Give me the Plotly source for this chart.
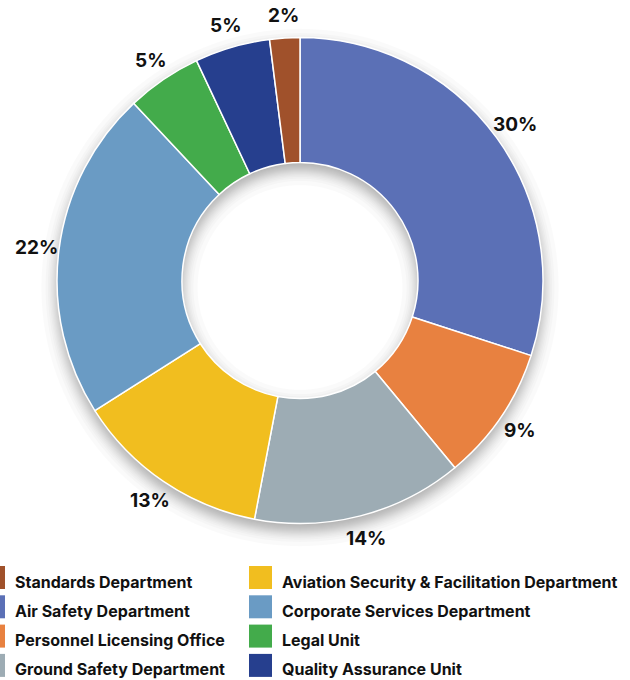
import math
from statistics import NormalDist

import plotly.graph_objects as go

# Share of staff by department (percent), in clockwise order from 12 o'clock
departments = [
    "Air Safety Department",
    "Personnel Licensing Office",
    "Ground Safety Department",
    "Aviation Security & Facilitation Department",
    "Corporate Services Department",
    "Legal Unit",
    "Quality Assurance Unit",
    "Standards Department",
]
shares = [30, 9, 14, 13, 22, 5, 5, 2]
colors = [
    "#5B70B6",
    "#E88140",
    "#9DACB4",
    "#F1BE1F",
    "#6A9BC4",
    "#43AB4B",
    "#263F8E",
    "#A0512B",
]
legend_order = [
    "Standards Department",
    "Air Safety Department",
    "Personnel Licensing Office",
    "Ground Safety Department",
    "Aviation Security & Facilitation Department",
    "Corporate Services Department",
    "Legal Unit",
    "Quality Assurance Unit",
]

# ---- geometry (pixels) ----
W, H = 630, 680
CX, CY = 300, 280.5
R_OUT, R_IN = 243, 118
LABEL_R = 266
FONT = "Inter"
TEXT_COLOR = "#111111"


def px_domain(cx, cy, r):
    return dict(x=[(cx - r) / W, (cx + r) / W], y=[1 - (cy + r) / H, 1 - (cy - r) / H])


def px_x(x):
    return x / W


def px_y(y):
    return 1 - y / H


def circle_path(cx, cy, r, n=180):
    pts = []
    for j in range(n):
        a = 2 * math.pi * j / n
        pts.append(f"{px_x(cx + r * math.cos(a)):.5f},{px_y(cy + r * math.sin(a)):.5f}")
    return "M" + " L".join(pts) + " Z"


fig = go.Figure()
shapes = []

# Soft drop shadow under the ring: stacked translucent annuli whose radii
# follow a normal spread, giving a blurred edge offset slightly downward.
SH_OFF, SH_SIGMA, SH_LAYERS, SH_OPACITY = 7, 8, 20, 0.02
nd = NormalDist()
for k in range(SH_LAYERS):
    z = nd.inv_cdf((k + 0.5) / SH_LAYERS)
    r_o = R_OUT + SH_SIGMA * z
    r_i = R_IN - SH_SIGMA * z
    shapes.append(dict(
        type="path", xref="paper", yref="paper",
        path=circle_path(CX, CY + SH_OFF, r_o) + " " + circle_path(CX, CY + SH_OFF, r_i),
        fillrule="evenodd",
        fillcolor="rgb(0,0,0)",
        opacity=SH_OPACITY,
        line=dict(width=0),
        layer="below",
    ))

# Main donut
fig.add_trace(go.Pie(
    labels=departments,
    values=shares,
    domain=px_domain(CX, CY, R_OUT),
    hole=R_IN / R_OUT,
    sort=False,
    direction="clockwise",
    rotation=0,
    marker=dict(colors=colors, line=dict(color="white", width=1.5)),
    textinfo="none",
    hovertemplate="%{label}: %{value}%<extra></extra>",
    showlegend=False,
))

annotations = []

# Percentage labels just outside each slice, along its mid-angle
total = sum(shares)
cum = 0
for name, v in zip(departments, shares):
    mid = (cum + v / 2) / total * 2 * math.pi
    cum += v
    lx = CX + LABEL_R * math.sin(mid)
    ly = CY - LABEL_R * math.cos(mid)
    annotations.append(dict(
        x=px_x(lx), y=px_y(ly), xref="paper", yref="paper",
        text=f"{v}%", showarrow=False, xanchor="center", yanchor="middle",
        font=dict(family=FONT, size=19, color=TEXT_COLOR, weight=700),
    ))

# Two-column legend below the chart
color_of = dict(zip(departments, colors))
SW = 23
ROW0, ROW_STEP = 577.5, 29.3
COL_SWATCH = [-18, 249]
COL_TEXT = [12.7, 279.5]
for i, name in enumerate(legend_order):
    col, row = divmod(i, 4)
    yc = ROW0 + row * ROW_STEP
    x0 = COL_SWATCH[col]
    shapes.append(dict(
        type="rect", xref="paper", yref="paper",
        x0=px_x(x0), x1=px_x(x0 + SW), y0=px_y(yc + SW / 2), y1=px_y(yc - SW / 2),
        fillcolor=color_of[name], line=dict(width=0), layer="above",
    ))
    annotations.append(dict(
        x=px_x(COL_TEXT[col]), y=px_y(yc + 4), xref="paper", yref="paper",
        text=name, showarrow=False, xanchor="left", yanchor="middle",
        font=dict(family=FONT, size=16, color=TEXT_COLOR, weight=700),
    ))

fig.update_layout(
    width=W,
    height=H,
    margin=dict(l=0, r=0, t=0, b=0),
    paper_bgcolor="white",
    plot_bgcolor="white",
    showlegend=False,
    annotations=annotations,
    shapes=shapes,
)

fig.write_html("out.html")
